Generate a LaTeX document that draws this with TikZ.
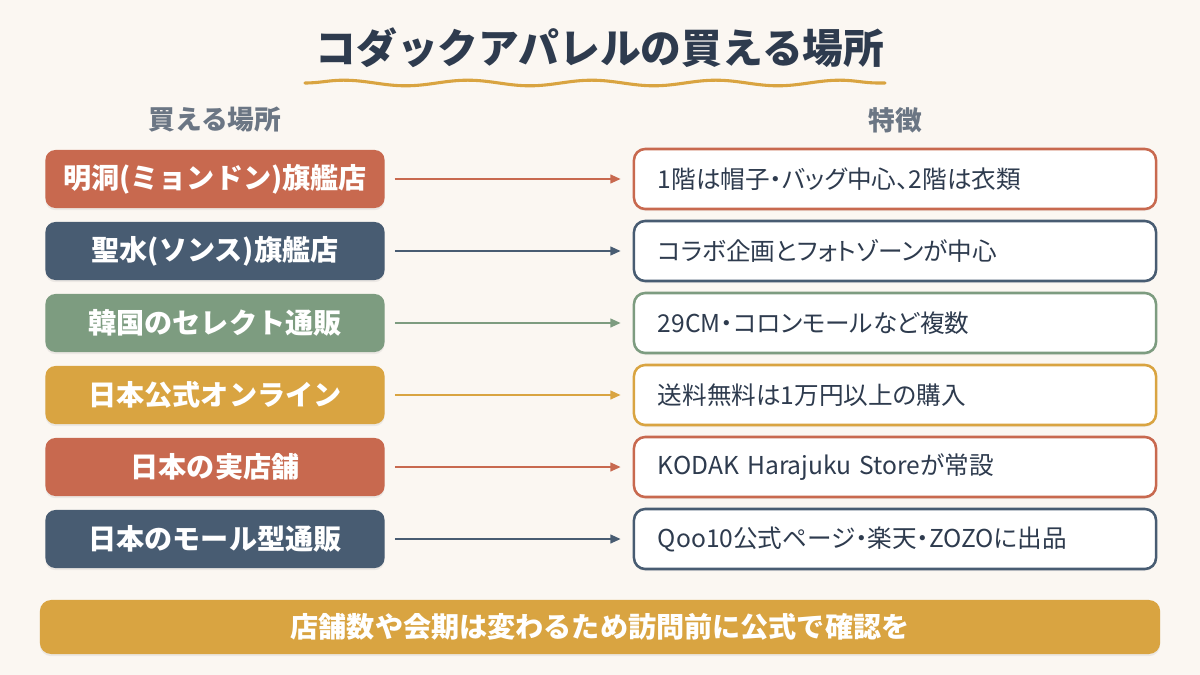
\documentclass[tikz,border=0pt]{standalone}
\usepackage{fontspec}
\setmainfont{Noto Sans CJK JP}
\usetikzlibrary{arrows.meta, positioning, decorations.pathmorphing, shadows}

\definecolor{bgcream}{HTML}{FBF7F2}
\definecolor{inkdark}{HTML}{2E3B4E}
\definecolor{headgray}{HTML}{6B7684}
\definecolor{terracotta}{HTML}{C8694F}
\definecolor{slate}{HTML}{485C72}
\definecolor{sage}{HTML}{7D9C80}
\definecolor{mustard}{HTML}{D9A441}

\begin{document}
\begin{tikzpicture}[
    x=0.025cm, y=-0.025cm,
    every node/.style={inner sep=0pt},
    place/.style={rounded corners=7pt, fill=#1, text=white, font=\fontsize{20}{24}\selectfont\bfseries,
        minimum width=8.475cm, minimum height=1.45cm,
        drop shadow={shadow xshift=0pt, shadow yshift=-1.5pt, opacity=0.12}},
    feature/.style={rounded corners=8pt, draw=#1, line width=1.8pt, fill=white, text=inkdark,
        minimum width=13.05cm, minimum height=1.5cm, text width=11.85cm, align=left,
        font=\fontsize{17.5}{21}\selectfont\addfontfeatures{RawFeature=+palt},
        drop shadow={shadow xshift=0pt, shadow yshift=-1.5pt, opacity=0.08}},
    arrow/.style={-{Triangle[length=2.6mm, width=2.2mm]}, line width=1.4pt, draw=#1, fill=#1,
        shorten <=0.25cm, shorten >=0.3cm},
    header/.style={text=headgray, font=\fontsize{19}{22}\selectfont\bfseries},
    note/.style={rounded corners=8pt, fill=mustard, text=white, font=\fontsize{20}{24}\selectfont\bfseries,
        minimum width=28cm, minimum height=1.35cm,
        drop shadow={shadow xshift=0pt, shadow yshift=-1.5pt, opacity=0.12}}
]

% background
\fill[bgcream] (0,0) rectangle (1200,675);
\useasboundingbox (0,0) rectangle (1200,675);

% ============ TITLE ============
\node[font=\fontsize{29}{34}\selectfont\bfseries, text=inkdark] (title) at (600,48) {コダックアパレルの買える場所};
\draw[mustard, line width=2.2pt, line cap=round, decorate,
    decoration={snake, segment length=3.1cm, amplitude=0.07cm}] (305,83) -- (885,83);

% Column headers
\node[header] (hplace) at (215,120) {買える場所};
\node[header] (hfeat) at (895,120) {特徴};

% ============ WHERE TO BUY ============
\node[place=terracotta] (p1) at (215,179) {明洞(ミョンドン)旗艦店};
\node[place=slate] (p2) at (215,251) {聖水(ソンス)旗艦店};
\node[place=sage] (p3) at (215,323) {韓国のセレクト通販};
\node[place=mustard] (p4) at (215,395) {日本公式オンライン};
\node[place=terracotta] (p5) at (215,467) {日本の実店舗};
\node[place=slate] (p6) at (215,539) {日本のモール型通販};

% ============ FEATURES ============
\node[feature=terracotta] (f1) at (895,179) {1階は帽子・バッグ中心、2階は衣類};
\node[feature=slate] (f2) at (895,251) {コラボ企画とフォトゾーンが中心};
\node[feature=sage] (f3) at (895,323) {29CM・コロンモールなど複数};
\node[feature=mustard] (f4) at (895,395) {送料無料は1万円以上の購入};
\node[feature=terracotta] (f5) at (895,467) {KODAK Harajuku Storeが常設};
\node[feature=slate] (f6) at (895,539) {Qoo10公式ページ・楽天・ZOZOに出品};

% Arrows
\draw[arrow=terracotta] (p1) -- (f1);
\draw[arrow=slate] (p2) -- (f2);
\draw[arrow=sage] (p3) -- (f3);
\draw[arrow=mustard] (p4) -- (f4);
\draw[arrow=terracotta] (p5) -- (f5);
\draw[arrow=slate] (p6) -- (f6);

% ============ NOTE ============
\node[note] (memo) at (600,627) {店舗数や会期は変わるため訪問前に公式で確認を};

\end{tikzpicture}
\end{document}
